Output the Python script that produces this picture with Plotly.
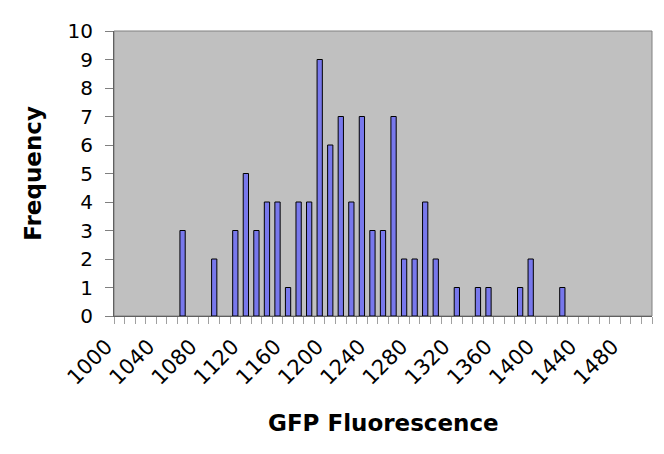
import plotly.graph_objects as go

# Data
bins = list(range(1000, 1510, 10))
freq_by_bin = {
    1060: 3, 1090: 2, 1110: 3, 1120: 5, 1130: 3, 1140: 4, 1150: 4, 1160: 1,
    1170: 4, 1180: 4, 1190: 9, 1200: 6, 1210: 7, 1220: 4, 1230: 7, 1240: 3,
    1250: 3, 1260: 7, 1270: 2, 1280: 2, 1290: 4, 1300: 2, 1320: 1, 1340: 1,
    1350: 1, 1380: 1, 1390: 2, 1420: 1,
}
frequency = [freq_by_bin.get(b, 0) for b in bins]
tick_labels = list(range(1000, 1520, 40))
y_ticks = list(range(0, 11))

xs = [b for b, f in zip(bins, frequency) if f > 0]
ys = [f for f in frequency if f > 0]

FONT = "DejaVu Sans, Verdana, sans-serif"

fig = go.Figure(go.Bar(
    x=xs, y=ys,
    marker=dict(color="#7878EC", line=dict(color="#000000", width=1)),
))

fig.update_layout(
    width=664, height=454,
    margin=dict(l=114, r=12, t=31, b=138),
    paper_bgcolor="white",
    plot_bgcolor="#C0C0C0",
    bargap=0.5,
    showlegend=False,
    font=dict(family=FONT, color="black", size=20),
)

fig.update_xaxes(
    range=[995, 1505], automargin=False,
    tickmode="array", tickvals=tick_labels, ticktext=[str(t) for t in tick_labels],
    tickangle=-45, ticks="", tickfont=dict(size=21),
    ticklabelstandoff=9, ticklabelshift=-13,
    minor=dict(ticks="outside", tick0=995, dtick=10, ticklen=7, tickcolor="#A0A0A0", tickwidth=1),
    showgrid=False, zeroline=False,
    showline=True, linecolor="#606060", linewidth=1, mirror=False,
)
fig.update_yaxes(
    range=[0, 10], automargin=False, tickmode="array", tickvals=y_ticks,
    ticks="outside", ticklen=8, tickcolor="#808080",
    tickfont=dict(size=20), ticklabelstandoff=8,
    showgrid=False, zeroline=False,
    showline=True, linecolor="#606060", linewidth=1,
)

fig.add_annotation(text="<b>GFP Fluorescence</b>", xref="paper", yref="paper",
                   x=0.5, y=-0.375, xanchor="center", yanchor="middle",
                   showarrow=False, font=dict(size=23, family=FONT))
fig.add_annotation(text="<b>Frequency</b>", xref="paper", yref="paper",
                   x=-0.152, y=0.5, xanchor="center", yanchor="middle", textangle=-90,
                   showarrow=False, font=dict(size=23, family=FONT))

# plot-area border (top/right)
fig.add_shape(type="rect", xref="paper", yref="paper", x0=0, y0=0, x1=1, y1=1,
              line=dict(color="#808080", width=1), fillcolor="rgba(0,0,0,0)", layer="below")

fig.write_html("out.html", config={"displayModeBar": False},
               post_script="document.body.style.margin='0';document.body.style.overflow='hidden';")
